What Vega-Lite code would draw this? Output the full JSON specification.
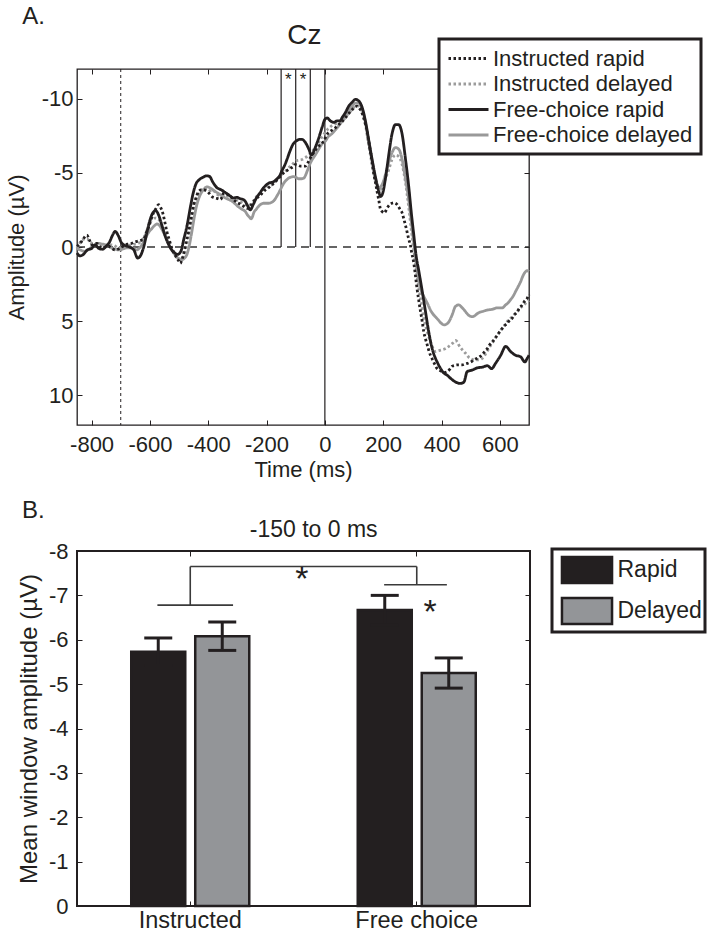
{
  "$schema": "https://vega.github.io/schema/vega-lite/v6.json",
  "background": "white",
  "padding": {"left": 4, "top": 4, "right": 0, "bottom": 0},
  "config": {
    "font": "Liberation Sans",
    "view": {"stroke": null},
    "axis": {"grid": false, "domain": false, "labelColor": "#231f20", "titleColor": "#231f20", "tickColor": "#231f20", "titleFontWeight": "normal", "labelFont": "Liberation Sans", "titleFont": "Liberation Sans", "labelExpr": "replace(datum.label, '\u2212', '-')"},
    "legend": {"strokeWidth": 3, "labelFont": "Liberation Sans"},
    "text": {"font": "Liberation Sans", "color": "#231f20"}
  },
  "resolve": {"scale": {"color": "independent", "strokeDash": "independent"}, "legend": {"color": "independent", "strokeDash": "independent"}},
  "datasets": {
    "erp": [
      {"s":"Free-choice delayed","t":-850,"v":0.1},{"s":"Free-choice delayed","t":-839,"v":0.2},{"s":"Free-choice delayed","t":-822,"v":0.3},{"s":"Free-choice delayed","t":-810,"v":0.15},{"s":"Free-choice delayed","t":-799,"v":0.0},{"s":"Free-choice delayed","t":-788,"v":-0.15},{"s":"Free-choice delayed","t":-776,"v":-0.25},{"s":"Free-choice delayed","t":-764,"v":-0.2},{"s":"Free-choice delayed","t":-753,"v":-0.15},{"s":"Free-choice delayed","t":-740,"v":-0.05},{"s":"Free-choice delayed","t":-730,"v":0.08},{"s":"Free-choice delayed","t":-718,"v":0.15},{"s":"Free-choice delayed","t":-707,"v":0.2},{"s":"Free-choice delayed","t":-695,"v":0.15},{"s":"Free-choice delayed","t":-685,"v":0.08},{"s":"Free-choice delayed","t":-670,"v":0.05},{"s":"Free-choice delayed","t":-655,"v":0.1},{"s":"Free-choice delayed","t":-645,"v":0.2},{"s":"Free-choice delayed","t":-635,"v":0.05},{"s":"Free-choice delayed","t":-627,"v":-0.15},{"s":"Free-choice delayed","t":-618,"v":-0.45},{"s":"Free-choice delayed","t":-610,"v":-0.8},{"s":"Free-choice delayed","t":-600,"v":-1.1},{"s":"Free-choice delayed","t":-593,"v":-1.25},{"s":"Free-choice delayed","t":-584,"v":-1.45},{"s":"Free-choice delayed","t":-576,"v":-1.55},{"s":"Free-choice delayed","t":-567,"v":-1.45},{"s":"Free-choice delayed","t":-559,"v":-1.2},{"s":"Free-choice delayed","t":-550,"v":-0.85},{"s":"Free-choice delayed","t":-542,"v":-0.5},{"s":"Free-choice delayed","t":-533,"v":-0.1},{"s":"Free-choice delayed","t":-525,"v":0.2},{"s":"Free-choice delayed","t":-515,"v":0.5},{"s":"Free-choice delayed","t":-507,"v":0.7},{"s":"Free-choice delayed","t":-498,"v":0.8},{"s":"Free-choice delayed","t":-490,"v":0.85},{"s":"Free-choice delayed","t":-481,"v":0.75},{"s":"Free-choice delayed","t":-473,"v":0.5},{"s":"Free-choice delayed","t":-465,"v":-0.1},{"s":"Free-choice delayed","t":-456,"v":-1.05},{"s":"Free-choice delayed","t":-447,"v":-2.1},{"s":"Free-choice delayed","t":-439,"v":-2.85},{"s":"Free-choice delayed","t":-430,"v":-3.4},{"s":"Free-choice delayed","t":-421,"v":-3.75},{"s":"Free-choice delayed","t":-412,"v":-3.95},{"s":"Free-choice delayed","t":-404,"v":-4.05},{"s":"Free-choice delayed","t":-395,"v":-4.0},{"s":"Free-choice delayed","t":-387,"v":-3.9},{"s":"Free-choice delayed","t":-376,"v":-3.75},{"s":"Free-choice delayed","t":-364,"v":-3.6},{"s":"Free-choice delayed","t":-352,"v":-3.45},{"s":"Free-choice delayed","t":-341,"v":-3.3},{"s":"Free-choice delayed","t":-330,"v":-3.2},{"s":"Free-choice delayed","t":-319,"v":-3.1},{"s":"Free-choice delayed","t":-307,"v":-2.9},{"s":"Free-choice delayed","t":-296,"v":-2.7},{"s":"Free-choice delayed","t":-285,"v":-2.55},{"s":"Free-choice delayed","t":-273,"v":-2.4},{"s":"Free-choice delayed","t":-265,"v":-2.15},{"s":"Free-choice delayed","t":-258,"v":-2.0},{"s":"Free-choice delayed","t":-253,"v":-1.9},{"s":"Free-choice delayed","t":-248,"v":-2.05},{"s":"Free-choice delayed","t":-244,"v":-2.3},{"s":"Free-choice delayed","t":-235,"v":-2.55},{"s":"Free-choice delayed","t":-227,"v":-2.75},{"s":"Free-choice delayed","t":-218,"v":-2.9},{"s":"Free-choice delayed","t":-210,"v":-2.95},{"s":"Free-choice delayed","t":-193,"v":-2.95},{"s":"Free-choice delayed","t":-176,"v":-3.1},{"s":"Free-choice delayed","t":-164,"v":-3.45},{"s":"Free-choice delayed","t":-153,"v":-3.85},{"s":"Free-choice delayed","t":-141,"v":-4.3},{"s":"Free-choice delayed","t":-130,"v":-4.55},{"s":"Free-choice delayed","t":-124,"v":-4.65},{"s":"Free-choice delayed","t":-115,"v":-4.72},{"s":"Free-choice delayed","t":-107,"v":-4.75},{"s":"Free-choice delayed","t":-98,"v":-4.68},{"s":"Free-choice delayed","t":-90,"v":-4.6},{"s":"Free-choice delayed","t":-80,"v":-4.6},{"s":"Free-choice delayed","t":-72,"v":-4.65},{"s":"Free-choice delayed","t":-66,"v":-4.85},{"s":"Free-choice delayed","t":-61,"v":-5.1},{"s":"Free-choice delayed","t":-55,"v":-5.4},{"s":"Free-choice delayed","t":-50,"v":-5.65},{"s":"Free-choice delayed","t":-40,"v":-6.0},{"s":"Free-choice delayed","t":-33,"v":-6.2},{"s":"Free-choice delayed","t":-24,"v":-6.5},{"s":"Free-choice delayed","t":-15,"v":-6.8},{"s":"Free-choice delayed","t":-6,"v":-7.05},{"s":"Free-choice delayed","t":2,"v":-7.15},{"s":"Free-choice delayed","t":10,"v":-7.4},{"s":"Free-choice delayed","t":25,"v":-7.65},{"s":"Free-choice delayed","t":36,"v":-7.9},{"s":"Free-choice delayed","t":47,"v":-8.15},{"s":"Free-choice delayed","t":59,"v":-8.5},{"s":"Free-choice delayed","t":70,"v":-8.95},{"s":"Free-choice delayed","t":80,"v":-9.2},{"s":"Free-choice delayed","t":88,"v":-9.4},{"s":"Free-choice delayed","t":97,"v":-9.6},{"s":"Free-choice delayed","t":105,"v":-9.7},{"s":"Free-choice delayed","t":116,"v":-9.7},{"s":"Free-choice delayed","t":128,"v":-9.3},{"s":"Free-choice delayed","t":139,"v":-8.4},{"s":"Free-choice delayed","t":150,"v":-7.1},{"s":"Free-choice delayed","t":162,"v":-5.8},{"s":"Free-choice delayed","t":173,"v":-4.65},{"s":"Free-choice delayed","t":185,"v":-4.0},{"s":"Free-choice delayed","t":196,"v":-4.2},{"s":"Free-choice delayed","t":208,"v":-4.9},{"s":"Free-choice delayed","t":219,"v":-5.7},{"s":"Free-choice delayed","t":230,"v":-6.35},{"s":"Free-choice delayed","t":242,"v":-6.7},{"s":"Free-choice delayed","t":253,"v":-6.6},{"s":"Free-choice delayed","t":265,"v":-5.9},{"s":"Free-choice delayed","t":276,"v":-4.65},{"s":"Free-choice delayed","t":288,"v":-3.1},{"s":"Free-choice delayed","t":297,"v":-1.6},{"s":"Free-choice delayed","t":304,"v":-0.4},{"s":"Free-choice delayed","t":310,"v":0.5},{"s":"Free-choice delayed","t":316,"v":1.6},{"s":"Free-choice delayed","t":322,"v":2.3},{"s":"Free-choice delayed","t":328,"v":2.8},{"s":"Free-choice delayed","t":336,"v":3.2},{"s":"Free-choice delayed","t":345,"v":3.55},{"s":"Free-choice delayed","t":354,"v":3.9},{"s":"Free-choice delayed","t":362,"v":4.25},{"s":"Free-choice delayed","t":370,"v":4.5},{"s":"Free-choice delayed","t":379,"v":4.7},{"s":"Free-choice delayed","t":388,"v":4.9},{"s":"Free-choice delayed","t":397,"v":5.1},{"s":"Free-choice delayed","t":408,"v":5.25},{"s":"Free-choice delayed","t":417,"v":5.2},{"s":"Free-choice delayed","t":425,"v":5.05},{"s":"Free-choice delayed","t":436,"v":4.6},{"s":"Free-choice delayed","t":448,"v":4.0},{"s":"Free-choice delayed","t":459,"v":3.9},{"s":"Free-choice delayed","t":471,"v":4.1},{"s":"Free-choice delayed","t":480,"v":4.3},{"s":"Free-choice delayed","t":488,"v":4.5},{"s":"Free-choice delayed","t":497,"v":4.65},{"s":"Free-choice delayed","t":505,"v":4.7},{"s":"Free-choice delayed","t":513,"v":4.65},{"s":"Free-choice delayed","t":522,"v":4.5},{"s":"Free-choice delayed","t":531,"v":4.4},{"s":"Free-choice delayed","t":540,"v":4.35},{"s":"Free-choice delayed","t":557,"v":4.25},{"s":"Free-choice delayed","t":574,"v":4.2},{"s":"Free-choice delayed","t":591,"v":4.1},{"s":"Free-choice delayed","t":608,"v":4.1},{"s":"Free-choice delayed","t":620,"v":3.9},{"s":"Free-choice delayed","t":629,"v":3.75},{"s":"Free-choice delayed","t":637,"v":3.55},{"s":"Free-choice delayed","t":646,"v":3.3},{"s":"Free-choice delayed","t":654,"v":3.0},{"s":"Free-choice delayed","t":662,"v":2.7},{"s":"Free-choice delayed","t":671,"v":2.35},{"s":"Free-choice delayed","t":677,"v":2.05},{"s":"Free-choice delayed","t":683,"v":1.8},{"s":"Free-choice delayed","t":694,"v":1.6},{"s":"Free-choice delayed","t":700,"v":1.65},

      {"s":"Instructed delayed","t":-850,"v":0.08},{"s":"Instructed delayed","t":-842,"v":-0.2},{"s":"Instructed delayed","t":-833,"v":-0.5},{"s":"Instructed delayed","t":-816,"v":-0.55},{"s":"Instructed delayed","t":-806,"v":-0.35},{"s":"Instructed delayed","t":-799,"v":-0.25},{"s":"Instructed delayed","t":-788,"v":-0.2},{"s":"Instructed delayed","t":-776,"v":-0.15},{"s":"Instructed delayed","t":-765,"v":-0.1},{"s":"Instructed delayed","t":-753,"v":-0.05},{"s":"Instructed delayed","t":-742,"v":-0.1},{"s":"Instructed delayed","t":-730,"v":-0.15},{"s":"Instructed delayed","t":-718,"v":-0.05},{"s":"Instructed delayed","t":-707,"v":0.08},{"s":"Instructed delayed","t":-696,"v":0.0},{"s":"Instructed delayed","t":-685,"v":-0.05},{"s":"Instructed delayed","t":-673,"v":-0.1},{"s":"Instructed delayed","t":-662,"v":-0.15},{"s":"Instructed delayed","t":-650,"v":-0.2},{"s":"Instructed delayed","t":-639,"v":-0.25},{"s":"Instructed delayed","t":-628,"v":-0.45},{"s":"Instructed delayed","t":-616,"v":-0.8},{"s":"Instructed delayed","t":-608,"v":-1.25},{"s":"Instructed delayed","t":-599,"v":-1.7},{"s":"Instructed delayed","t":-590,"v":-1.85},{"s":"Instructed delayed","t":-582,"v":-1.95},{"s":"Instructed delayed","t":-573,"v":-1.9},{"s":"Instructed delayed","t":-564,"v":-1.7},{"s":"Instructed delayed","t":-556,"v":-1.3},{"s":"Instructed delayed","t":-547,"v":-0.8},{"s":"Instructed delayed","t":-536,"v":-0.35},{"s":"Instructed delayed","t":-525,"v":0.08},{"s":"Instructed delayed","t":-516,"v":0.45},{"s":"Instructed delayed","t":-507,"v":0.75},{"s":"Instructed delayed","t":-500,"v":0.82},{"s":"Instructed delayed","t":-492,"v":0.85},{"s":"Instructed delayed","t":-485,"v":0.65},{"s":"Instructed delayed","t":-479,"v":0.3},{"s":"Instructed delayed","t":-470,"v":-0.45},{"s":"Instructed delayed","t":-461,"v":-1.3},{"s":"Instructed delayed","t":-452,"v":-2.2},{"s":"Instructed delayed","t":-444,"v":-3.1},{"s":"Instructed delayed","t":-435,"v":-3.45},{"s":"Instructed delayed","t":-427,"v":-3.75},{"s":"Instructed delayed","t":-418,"v":-3.9},{"s":"Instructed delayed","t":-410,"v":-4.0},{"s":"Instructed delayed","t":-400,"v":-3.95},{"s":"Instructed delayed","t":-393,"v":-3.8},{"s":"Instructed delayed","t":-387,"v":-3.85},{"s":"Instructed delayed","t":-376,"v":-3.7},{"s":"Instructed delayed","t":-364,"v":-3.5},{"s":"Instructed delayed","t":-352,"v":-3.5},{"s":"Instructed delayed","t":-341,"v":-3.5},{"s":"Instructed delayed","t":-330,"v":-3.4},{"s":"Instructed delayed","t":-319,"v":-3.3},{"s":"Instructed delayed","t":-307,"v":-3.2},{"s":"Instructed delayed","t":-296,"v":-3.1},{"s":"Instructed delayed","t":-285,"v":-3.0},{"s":"Instructed delayed","t":-273,"v":-2.85},{"s":"Instructed delayed","t":-265,"v":-2.8},{"s":"Instructed delayed","t":-256,"v":-2.85},{"s":"Instructed delayed","t":-247,"v":-3.05},{"s":"Instructed delayed","t":-238,"v":-3.3},{"s":"Instructed delayed","t":-230,"v":-3.5},{"s":"Instructed delayed","t":-221,"v":-3.65},{"s":"Instructed delayed","t":-212,"v":-3.85},{"s":"Instructed delayed","t":-204,"v":-4.0},{"s":"Instructed delayed","t":-192,"v":-4.1},{"s":"Instructed delayed","t":-181,"v":-4.2},{"s":"Instructed delayed","t":-170,"v":-4.4},{"s":"Instructed delayed","t":-159,"v":-4.65},{"s":"Instructed delayed","t":-147,"v":-4.9},{"s":"Instructed delayed","t":-135,"v":-5.1},{"s":"Instructed delayed","t":-126,"v":-5.3},{"s":"Instructed delayed","t":-118,"v":-5.45},{"s":"Instructed delayed","t":-110,"v":-5.6},{"s":"Instructed delayed","t":-101,"v":-5.8},{"s":"Instructed delayed","t":-90,"v":-5.85},{"s":"Instructed delayed","t":-78,"v":-5.9},{"s":"Instructed delayed","t":-70,"v":-6.0},{"s":"Instructed delayed","t":-61,"v":-6.1},{"s":"Instructed delayed","t":-52,"v":-6.25},{"s":"Instructed delayed","t":-44,"v":-6.45},{"s":"Instructed delayed","t":-35,"v":-6.65},{"s":"Instructed delayed","t":-27,"v":-6.9},{"s":"Instructed delayed","t":-18,"v":-7.15},{"s":"Instructed delayed","t":-9,"v":-7.45},{"s":"Instructed delayed","t":0,"v":-7.7},{"s":"Instructed delayed","t":8,"v":-7.9},{"s":"Instructed delayed","t":16,"v":-8.05},{"s":"Instructed delayed","t":25,"v":-8.2},{"s":"Instructed delayed","t":36,"v":-8.3},{"s":"Instructed delayed","t":47,"v":-8.4},{"s":"Instructed delayed","t":59,"v":-8.55},{"s":"Instructed delayed","t":70,"v":-8.7},{"s":"Instructed delayed","t":79,"v":-8.95},{"s":"Instructed delayed","t":88,"v":-9.15},{"s":"Instructed delayed","t":97,"v":-9.35},{"s":"Instructed delayed","t":105,"v":-9.5},{"s":"Instructed delayed","t":116,"v":-9.5},{"s":"Instructed delayed","t":128,"v":-9.05},{"s":"Instructed delayed","t":139,"v":-8.25},{"s":"Instructed delayed","t":150,"v":-6.9},{"s":"Instructed delayed","t":162,"v":-5.55},{"s":"Instructed delayed","t":173,"v":-4.45},{"s":"Instructed delayed","t":185,"v":-3.85},{"s":"Instructed delayed","t":196,"v":-3.95},{"s":"Instructed delayed","t":208,"v":-4.65},{"s":"Instructed delayed","t":219,"v":-5.2},{"s":"Instructed delayed","t":230,"v":-5.9},{"s":"Instructed delayed","t":242,"v":-6.2},{"s":"Instructed delayed","t":253,"v":-6.1},{"s":"Instructed delayed","t":265,"v":-5.55},{"s":"Instructed delayed","t":276,"v":-4.4},{"s":"Instructed delayed","t":288,"v":-2.6},{"s":"Instructed delayed","t":297,"v":-1.05},{"s":"Instructed delayed","t":305,"v":0.2},{"s":"Instructed delayed","t":311,"v":1.1},{"s":"Instructed delayed","t":316,"v":1.9},{"s":"Instructed delayed","t":322,"v":2.7},{"s":"Instructed delayed","t":328,"v":3.45},{"s":"Instructed delayed","t":339,"v":4.8},{"s":"Instructed delayed","t":351,"v":5.7},{"s":"Instructed delayed","t":362,"v":6.4},{"s":"Instructed delayed","t":368,"v":6.7},{"s":"Instructed delayed","t":379,"v":7.05},{"s":"Instructed delayed","t":388,"v":7.0},{"s":"Instructed delayed","t":397,"v":6.95},{"s":"Instructed delayed","t":414,"v":6.85},{"s":"Instructed delayed","t":431,"v":6.6},{"s":"Instructed delayed","t":440,"v":6.45},{"s":"Instructed delayed","t":448,"v":6.3},{"s":"Instructed delayed","t":454,"v":6.4},{"s":"Instructed delayed","t":459,"v":6.6},{"s":"Instructed delayed","t":468,"v":6.85},{"s":"Instructed delayed","t":477,"v":7.05},{"s":"Instructed delayed","t":486,"v":7.25},{"s":"Instructed delayed","t":494,"v":7.45},{"s":"Instructed delayed","t":502,"v":7.55},{"s":"Instructed delayed","t":511,"v":7.6},{"s":"Instructed delayed","t":528,"v":7.6},{"s":"Instructed delayed","t":537,"v":7.55},{"s":"Instructed delayed","t":545,"v":7.4},{"s":"Instructed delayed","t":553,"v":7.15},{"s":"Instructed delayed","t":562,"v":6.85},{"s":"Instructed delayed","t":571,"v":6.55},{"s":"Instructed delayed","t":580,"v":6.3},{"s":"Instructed delayed","t":588,"v":6.05},{"s":"Instructed delayed","t":597,"v":5.8},{"s":"Instructed delayed","t":605,"v":5.55},{"s":"Instructed delayed","t":614,"v":5.35},{"s":"Instructed delayed","t":623,"v":5.1},{"s":"Instructed delayed","t":631,"v":4.9},{"s":"Instructed delayed","t":640,"v":4.75},{"s":"Instructed delayed","t":648,"v":4.6},{"s":"Instructed delayed","t":657,"v":4.4},{"s":"Instructed delayed","t":665,"v":4.25},{"s":"Instructed delayed","t":674,"v":4.05},{"s":"Instructed delayed","t":683,"v":3.9},{"s":"Instructed delayed","t":691,"v":3.75},{"s":"Instructed delayed","t":700,"v":3.6},

      {"s":"Instructed rapid","t":-850,"v":-0.05},{"s":"Instructed rapid","t":-839,"v":-0.25},{"s":"Instructed rapid","t":-828,"v":-0.55},{"s":"Instructed rapid","t":-816,"v":-0.8},{"s":"Instructed rapid","t":-808,"v":-0.5},{"s":"Instructed rapid","t":-799,"v":-0.15},{"s":"Instructed rapid","t":-790,"v":-0.2},{"s":"Instructed rapid","t":-782,"v":-0.25},{"s":"Instructed rapid","t":-774,"v":-0.05},{"s":"Instructed rapid","t":-765,"v":0.08},{"s":"Instructed rapid","t":-753,"v":0.0},{"s":"Instructed rapid","t":-742,"v":-0.05},{"s":"Instructed rapid","t":-730,"v":0.1},{"s":"Instructed rapid","t":-719,"v":0.2},{"s":"Instructed rapid","t":-710,"v":0.15},{"s":"Instructed rapid","t":-702,"v":0.08},{"s":"Instructed rapid","t":-693,"v":-0.05},{"s":"Instructed rapid","t":-685,"v":-0.15},{"s":"Instructed rapid","t":-673,"v":-0.2},{"s":"Instructed rapid","t":-662,"v":-0.25},{"s":"Instructed rapid","t":-650,"v":-0.35},{"s":"Instructed rapid","t":-639,"v":-0.4},{"s":"Instructed rapid","t":-630,"v":-0.45},{"s":"Instructed rapid","t":-622,"v":-0.5},{"s":"Instructed rapid","t":-614,"v":-0.9},{"s":"Instructed rapid","t":-605,"v":-1.3},{"s":"Instructed rapid","t":-596,"v":-1.85},{"s":"Instructed rapid","t":-588,"v":-2.3},{"s":"Instructed rapid","t":-579,"v":-2.6},{"s":"Instructed rapid","t":-570,"v":-2.85},{"s":"Instructed rapid","t":-563,"v":-2.65},{"s":"Instructed rapid","t":-556,"v":-2.3},{"s":"Instructed rapid","t":-549,"v":-1.7},{"s":"Instructed rapid","t":-542,"v":-1.05},{"s":"Instructed rapid","t":-533,"v":-0.45},{"s":"Instructed rapid","t":-525,"v":0.08},{"s":"Instructed rapid","t":-516,"v":0.45},{"s":"Instructed rapid","t":-507,"v":0.75},{"s":"Instructed rapid","t":-501,"v":0.95},{"s":"Instructed rapid","t":-496,"v":1.1},{"s":"Instructed rapid","t":-490,"v":0.85},{"s":"Instructed rapid","t":-485,"v":0.5},{"s":"Instructed rapid","t":-476,"v":-0.3},{"s":"Instructed rapid","t":-467,"v":-1.05},{"s":"Instructed rapid","t":-458,"v":-2.0},{"s":"Instructed rapid","t":-450,"v":-2.85},{"s":"Instructed rapid","t":-441,"v":-3.35},{"s":"Instructed rapid","t":-433,"v":-3.75},{"s":"Instructed rapid","t":-424,"v":-3.85},{"s":"Instructed rapid","t":-416,"v":-3.85},{"s":"Instructed rapid","t":-404,"v":-3.75},{"s":"Instructed rapid","t":-396,"v":-3.6},{"s":"Instructed rapid","t":-387,"v":-3.4},{"s":"Instructed rapid","t":-376,"v":-3.3},{"s":"Instructed rapid","t":-365,"v":-3.25},{"s":"Instructed rapid","t":-358,"v":-3.2},{"s":"Instructed rapid","t":-352,"v":-3.4},{"s":"Instructed rapid","t":-347,"v":-3.65},{"s":"Instructed rapid","t":-338,"v":-3.6},{"s":"Instructed rapid","t":-330,"v":-3.5},{"s":"Instructed rapid","t":-321,"v":-3.35},{"s":"Instructed rapid","t":-313,"v":-3.2},{"s":"Instructed rapid","t":-305,"v":-3.05},{"s":"Instructed rapid","t":-296,"v":-2.95},{"s":"Instructed rapid","t":-287,"v":-2.85},{"s":"Instructed rapid","t":-279,"v":-2.75},{"s":"Instructed rapid","t":-267,"v":-2.6},{"s":"Instructed rapid","t":-256,"v":-2.75},{"s":"Instructed rapid","t":-247,"v":-3.0},{"s":"Instructed rapid","t":-238,"v":-3.2},{"s":"Instructed rapid","t":-230,"v":-3.35},{"s":"Instructed rapid","t":-221,"v":-3.5},{"s":"Instructed rapid","t":-212,"v":-3.7},{"s":"Instructed rapid","t":-204,"v":-3.85},{"s":"Instructed rapid","t":-196,"v":-3.95},{"s":"Instructed rapid","t":-187,"v":-4.1},{"s":"Instructed rapid","t":-178,"v":-4.25},{"s":"Instructed rapid","t":-170,"v":-4.4},{"s":"Instructed rapid","t":-161,"v":-4.6},{"s":"Instructed rapid","t":-153,"v":-4.75},{"s":"Instructed rapid","t":-144,"v":-4.95},{"s":"Instructed rapid","t":-135,"v":-5.1},{"s":"Instructed rapid","t":-126,"v":-5.2},{"s":"Instructed rapid","t":-118,"v":-5.3},{"s":"Instructed rapid","t":-110,"v":-5.4},{"s":"Instructed rapid","t":-101,"v":-5.55},{"s":"Instructed rapid","t":-92,"v":-5.5},{"s":"Instructed rapid","t":-84,"v":-5.45},{"s":"Instructed rapid","t":-75,"v":-5.45},{"s":"Instructed rapid","t":-67,"v":-5.45},{"s":"Instructed rapid","t":-61,"v":-5.6},{"s":"Instructed rapid","t":-55,"v":-5.8},{"s":"Instructed rapid","t":-50,"v":-6.0},{"s":"Instructed rapid","t":-44,"v":-6.2},{"s":"Instructed rapid","t":-35,"v":-6.45},{"s":"Instructed rapid","t":-27,"v":-6.7},{"s":"Instructed rapid","t":-18,"v":-6.85},{"s":"Instructed rapid","t":-9,"v":-7.0},{"s":"Instructed rapid","t":0,"v":-7.3},{"s":"Instructed rapid","t":8,"v":-7.6},{"s":"Instructed rapid","t":19,"v":-7.8},{"s":"Instructed rapid","t":31,"v":-7.95},{"s":"Instructed rapid","t":40,"v":-8.1},{"s":"Instructed rapid","t":47,"v":-8.25},{"s":"Instructed rapid","t":59,"v":-8.45},{"s":"Instructed rapid","t":70,"v":-8.7},{"s":"Instructed rapid","t":82,"v":-9.0},{"s":"Instructed rapid","t":93,"v":-9.25},{"s":"Instructed rapid","t":102,"v":-9.4},{"s":"Instructed rapid","t":110,"v":-9.5},{"s":"Instructed rapid","t":116,"v":-9.4},{"s":"Instructed rapid","t":122,"v":-9.25},{"s":"Instructed rapid","t":128,"v":-9.0},{"s":"Instructed rapid","t":133,"v":-8.7},{"s":"Instructed rapid","t":139,"v":-8.3},{"s":"Instructed rapid","t":145,"v":-7.8},{"s":"Instructed rapid","t":150,"v":-7.2},{"s":"Instructed rapid","t":156,"v":-6.45},{"s":"Instructed rapid","t":162,"v":-5.7},{"s":"Instructed rapid","t":168,"v":-4.9},{"s":"Instructed rapid","t":174,"v":-4.3},{"s":"Instructed rapid","t":179,"v":-3.75},{"s":"Instructed rapid","t":185,"v":-3.15},{"s":"Instructed rapid","t":190,"v":-2.6},{"s":"Instructed rapid","t":196,"v":-2.4},{"s":"Instructed rapid","t":202,"v":-2.3},{"s":"Instructed rapid","t":208,"v":-2.4},{"s":"Instructed rapid","t":213,"v":-2.6},{"s":"Instructed rapid","t":222,"v":-2.85},{"s":"Instructed rapid","t":230,"v":-2.95},{"s":"Instructed rapid","t":236,"v":-2.98},{"s":"Instructed rapid","t":242,"v":-2.95},{"s":"Instructed rapid","t":248,"v":-2.85},{"s":"Instructed rapid","t":253,"v":-2.7},{"s":"Instructed rapid","t":259,"v":-2.5},{"s":"Instructed rapid","t":265,"v":-2.3},{"s":"Instructed rapid","t":270,"v":-1.95},{"s":"Instructed rapid","t":276,"v":-1.5},{"s":"Instructed rapid","t":282,"v":-1.0},{"s":"Instructed rapid","t":288,"v":-0.5},{"s":"Instructed rapid","t":293,"v":-0.15},{"s":"Instructed rapid","t":297,"v":0.3},{"s":"Instructed rapid","t":305,"v":1.1},{"s":"Instructed rapid","t":311,"v":2.0},{"s":"Instructed rapid","t":316,"v":2.8},{"s":"Instructed rapid","t":322,"v":3.6},{"s":"Instructed rapid","t":328,"v":4.35},{"s":"Instructed rapid","t":334,"v":5.05},{"s":"Instructed rapid","t":339,"v":5.7},{"s":"Instructed rapid","t":345,"v":6.2},{"s":"Instructed rapid","t":351,"v":6.6},{"s":"Instructed rapid","t":356,"v":6.95},{"s":"Instructed rapid","t":362,"v":7.3},{"s":"Instructed rapid","t":368,"v":7.55},{"s":"Instructed rapid","t":373,"v":7.75},{"s":"Instructed rapid","t":379,"v":8.0},{"s":"Instructed rapid","t":385,"v":8.2},{"s":"Instructed rapid","t":393,"v":8.3},{"s":"Instructed rapid","t":402,"v":8.4},{"s":"Instructed rapid","t":411,"v":8.45},{"s":"Instructed rapid","t":420,"v":8.4},{"s":"Instructed rapid","t":428,"v":8.25},{"s":"Instructed rapid","t":436,"v":8.05},{"s":"Instructed rapid","t":445,"v":7.98},{"s":"Instructed rapid","t":453,"v":7.95},{"s":"Instructed rapid","t":462,"v":7.95},{"s":"Instructed rapid","t":471,"v":7.95},{"s":"Instructed rapid","t":480,"v":7.9},{"s":"Instructed rapid","t":488,"v":7.85},{"s":"Instructed rapid","t":497,"v":7.78},{"s":"Instructed rapid","t":505,"v":7.7},{"s":"Instructed rapid","t":513,"v":7.6},{"s":"Instructed rapid","t":522,"v":7.5},{"s":"Instructed rapid","t":531,"v":7.4},{"s":"Instructed rapid","t":540,"v":7.25},{"s":"Instructed rapid","t":548,"v":7.05},{"s":"Instructed rapid","t":557,"v":6.85},{"s":"Instructed rapid","t":565,"v":6.6},{"s":"Instructed rapid","t":574,"v":6.4},{"s":"Instructed rapid","t":582,"v":6.2},{"s":"Instructed rapid","t":591,"v":5.95},{"s":"Instructed rapid","t":600,"v":5.7},{"s":"Instructed rapid","t":608,"v":5.5},{"s":"Instructed rapid","t":616,"v":5.3},{"s":"Instructed rapid","t":625,"v":5.15},{"s":"Instructed rapid","t":633,"v":4.95},{"s":"Instructed rapid","t":642,"v":4.8},{"s":"Instructed rapid","t":651,"v":4.55},{"s":"Instructed rapid","t":660,"v":4.35},{"s":"Instructed rapid","t":668,"v":4.1},{"s":"Instructed rapid","t":677,"v":3.9},{"s":"Instructed rapid","t":685,"v":3.65},{"s":"Instructed rapid","t":694,"v":3.45},{"s":"Instructed rapid","t":700,"v":3.2},

      {"s":"Free-choice rapid","t":-850,"v":0.4},{"s":"Free-choice rapid","t":-840,"v":0.6},{"s":"Free-choice rapid","t":-828,"v":0.5},{"s":"Free-choice rapid","t":-815,"v":0.2},{"s":"Free-choice rapid","t":-800,"v":0.1},{"s":"Free-choice rapid","t":-788,"v":-0.15},{"s":"Free-choice rapid","t":-775,"v":0.1},{"s":"Free-choice rapid","t":-762,"v":0.15},{"s":"Free-choice rapid","t":-750,"v":-0.05},{"s":"Free-choice rapid","t":-738,"v":-0.35},{"s":"Free-choice rapid","t":-728,"v":-0.8},{"s":"Free-choice rapid","t":-719,"v":-1.05},{"s":"Free-choice rapid","t":-708,"v":-0.75},{"s":"Free-choice rapid","t":-698,"v":-0.3},{"s":"Free-choice rapid","t":-685,"v":-0.1},{"s":"Free-choice rapid","t":-670,"v":0.0},{"s":"Free-choice rapid","t":-655,"v":0.2},{"s":"Free-choice rapid","t":-642,"v":0.75},{"s":"Free-choice rapid","t":-630,"v":0.5},{"s":"Free-choice rapid","t":-620,"v":-0.1},{"s":"Free-choice rapid","t":-610,"v":-1.0},{"s":"Free-choice rapid","t":-600,"v":-1.8},{"s":"Free-choice rapid","t":-590,"v":-2.3},{"s":"Free-choice rapid","t":-580,"v":-2.45},{"s":"Free-choice rapid","t":-570,"v":-2.15},{"s":"Free-choice rapid","t":-558,"v":-1.4},{"s":"Free-choice rapid","t":-545,"v":-0.6},{"s":"Free-choice rapid","t":-530,"v":0.05},{"s":"Free-choice rapid","t":-515,"v":0.4},{"s":"Free-choice rapid","t":-505,"v":0.5},{"s":"Free-choice rapid","t":-494,"v":0.3},{"s":"Free-choice rapid","t":-484,"v":-0.5},{"s":"Free-choice rapid","t":-472,"v":-1.5},{"s":"Free-choice rapid","t":-462,"v":-2.6},{"s":"Free-choice rapid","t":-452,"v":-3.6},{"s":"Free-choice rapid","t":-442,"v":-4.25},{"s":"Free-choice rapid","t":-430,"v":-4.55},{"s":"Free-choice rapid","t":-418,"v":-4.7},{"s":"Free-choice rapid","t":-405,"v":-4.8},{"s":"Free-choice rapid","t":-395,"v":-4.75},{"s":"Free-choice rapid","t":-385,"v":-4.4},{"s":"Free-choice rapid","t":-370,"v":-4.0},{"s":"Free-choice rapid","t":-355,"v":-3.85},{"s":"Free-choice rapid","t":-340,"v":-3.65},{"s":"Free-choice rapid","t":-325,"v":-3.45},{"s":"Free-choice rapid","t":-313,"v":-3.3},{"s":"Free-choice rapid","t":-302,"v":-3.35},{"s":"Free-choice rapid","t":-290,"v":-3.25},{"s":"Free-choice rapid","t":-280,"v":-3.2},{"s":"Free-choice rapid","t":-272,"v":-3.05},{"s":"Free-choice rapid","t":-264,"v":-2.75},{"s":"Free-choice rapid","t":-256,"v":-2.5},{"s":"Free-choice rapid","t":-246,"v":-2.85},{"s":"Free-choice rapid","t":-235,"v":-3.3},{"s":"Free-choice rapid","t":-224,"v":-3.6},{"s":"Free-choice rapid","t":-210,"v":-4.0},{"s":"Free-choice rapid","t":-193,"v":-4.3},{"s":"Free-choice rapid","t":-176,"v":-4.4},{"s":"Free-choice rapid","t":-164,"v":-4.6},{"s":"Free-choice rapid","t":-155,"v":-4.8},{"s":"Free-choice rapid","t":-147,"v":-5.15},{"s":"Free-choice rapid","t":-138,"v":-5.5},{"s":"Free-choice rapid","t":-130,"v":-5.9},{"s":"Free-choice rapid","t":-120,"v":-6.45},{"s":"Free-choice rapid","t":-110,"v":-6.9},{"s":"Free-choice rapid","t":-98,"v":-7.15},{"s":"Free-choice rapid","t":-88,"v":-7.25},{"s":"Free-choice rapid","t":-78,"v":-7.25},{"s":"Free-choice rapid","t":-67,"v":-7.05},{"s":"Free-choice rapid","t":-55,"v":-6.6},{"s":"Free-choice rapid","t":-46,"v":-6.2},{"s":"Free-choice rapid","t":-40,"v":-6.35},{"s":"Free-choice rapid","t":-34,"v":-6.65},{"s":"Free-choice rapid","t":-21,"v":-7.35},{"s":"Free-choice rapid","t":-9,"v":-8.1},{"s":"Free-choice rapid","t":0,"v":-8.6},{"s":"Free-choice rapid","t":8,"v":-8.7},{"s":"Free-choice rapid","t":19,"v":-8.5},{"s":"Free-choice rapid","t":31,"v":-8.4},{"s":"Free-choice rapid","t":42,"v":-8.5},{"s":"Free-choice rapid","t":52,"v":-8.5},{"s":"Free-choice rapid","t":60,"v":-8.75},{"s":"Free-choice rapid","t":70,"v":-9.05},{"s":"Free-choice rapid","t":82,"v":-9.5},{"s":"Free-choice rapid","t":93,"v":-9.75},{"s":"Free-choice rapid","t":105,"v":-9.95},{"s":"Free-choice rapid","t":116,"v":-9.85},{"s":"Free-choice rapid","t":128,"v":-9.4},{"s":"Free-choice rapid","t":139,"v":-8.5},{"s":"Free-choice rapid","t":150,"v":-7.25},{"s":"Free-choice rapid","t":162,"v":-5.9},{"s":"Free-choice rapid","t":173,"v":-4.75},{"s":"Free-choice rapid","t":185,"v":-3.75},{"s":"Free-choice rapid","t":191,"v":-3.4},{"s":"Free-choice rapid","t":198,"v":-3.6},{"s":"Free-choice rapid","t":208,"v":-4.65},{"s":"Free-choice rapid","t":219,"v":-6.2},{"s":"Free-choice rapid","t":230,"v":-7.6},{"s":"Free-choice rapid","t":242,"v":-8.25},{"s":"Free-choice rapid","t":253,"v":-8.25},{"s":"Free-choice rapid","t":265,"v":-7.6},{"s":"Free-choice rapid","t":276,"v":-6.0},{"s":"Free-choice rapid","t":288,"v":-4.0},{"s":"Free-choice rapid","t":297,"v":-2.2},{"s":"Free-choice rapid","t":305,"v":-0.8},{"s":"Free-choice rapid","t":313,"v":0.6},{"s":"Free-choice rapid","t":322,"v":1.6},{"s":"Free-choice rapid","t":334,"v":3.0},{"s":"Free-choice rapid","t":345,"v":4.35},{"s":"Free-choice rapid","t":356,"v":5.7},{"s":"Free-choice rapid","t":368,"v":6.85},{"s":"Free-choice rapid","t":377,"v":7.4},{"s":"Free-choice rapid","t":385,"v":7.75},{"s":"Free-choice rapid","t":397,"v":8.2},{"s":"Free-choice rapid","t":408,"v":8.5},{"s":"Free-choice rapid","t":420,"v":8.65},{"s":"Free-choice rapid","t":431,"v":8.85},{"s":"Free-choice rapid","t":448,"v":9.1},{"s":"Free-choice rapid","t":465,"v":9.2},{"s":"Free-choice rapid","t":477,"v":9.1},{"s":"Free-choice rapid","t":488,"v":8.4},{"s":"Free-choice rapid","t":505,"v":8.3},{"s":"Free-choice rapid","t":522,"v":8.15},{"s":"Free-choice rapid","t":540,"v":8.1},{"s":"Free-choice rapid","t":557,"v":8.0},{"s":"Free-choice rapid","t":572,"v":8.2},{"s":"Free-choice rapid","t":585,"v":7.85},{"s":"Free-choice rapid","t":603,"v":7.3},{"s":"Free-choice rapid","t":620,"v":6.7},{"s":"Free-choice rapid","t":637,"v":7.05},{"s":"Free-choice rapid","t":654,"v":7.3},{"s":"Free-choice rapid","t":671,"v":7.4},{"s":"Free-choice rapid","t":686,"v":7.75},{"s":"Free-choice rapid","t":694,"v":7.5},{"s":"Free-choice rapid","t":700,"v":7.3}
    ],
    "bars": [
      {"cond":"Instructed","type":"Rapid","mean":-5.73,"lo":-6.04,"hi":-5.42},
      {"cond":"Instructed","type":"Delayed","mean":-6.08,"lo":-6.40,"hi":-5.76},
      {"cond":"Free choice","type":"Rapid","mean":-6.67,"lo":-7.00,"hi":-6.34},
      {"cond":"Free choice","type":"Delayed","mean":-5.25,"lo":-5.59,"hi":-4.91}
    ],
    "sig": [
      {"x":0.855,"x2":1.189,"y":-6.78,"y2":-6.78},
      {"x":1.856,"x2":2.133,"y":-7.24,"y2":-7.24},
      {"x":1.0,"x2":2.0,"y":-7.65,"y2":-7.65},
      {"x":1.0,"x2":1.0,"y":-7.65,"y2":-6.78},
      {"x":2.0,"x2":2.0,"y":-7.65,"y2":-7.24}
    ],
    "stars": [
      {"x":1.493,"y":-7.44,"label":"*"},
      {"x":2.059,"y":-6.69,"label":"*"}
    ]
  },
  "vconcat": [
    {
      "width": 452,
      "height": 356,
      "view": {"stroke": "#231f20", "strokeWidth": 1.3},
      "resolve": {"axis": {"x": "independent", "y": "independent"}},
      "layer": [
        {
          "data": {"values": [{}]},
          "mark": {"type": "rule", "strokeDash": [3, 3], "strokeWidth": 1, "color": "#231f20"},
          "encoding": {
            "x": {"datum": -700, "type": "quantitative", "axis": null},
            "y": {"datum": -12, "type": "quantitative", "axis": null},
            "y2": {"datum": 12}
          }
        },
        {
          "data": {"values": [{}]},
          "mark": {"type": "rule", "strokeDash": [8, 6], "strokeWidth": 1.3, "color": "#333333"},
          "encoding": {
            "x": {"datum": -850, "type": "quantitative", "axis": null},
            "x2": {"datum": 700},
            "y": {"datum": 0, "type": "quantitative", "axis": null}
          }
        },
        {
          "data": {"values": [{"t": -150}, {"t": -100}, {"t": -50}]},
          "mark": {"type": "rule", "strokeWidth": 1.2, "color": "#231f20"},
          "encoding": {
            "x": {"field": "t", "type": "quantitative", "title": "Time (ms)",
                  "axis": {"orient": "top", "labels": false, "title": null, "values": [-800, -600, -400, -200, 0, 200, 400, 600], "tickSize": -5, "domain": false}},
            "y": {"datum": 0, "type": "quantitative",
                  "axis": {"orient": "right", "labels": false, "title": null, "values": [-10, -5, 0, 5, 10], "tickSize": -5, "domain": false}},
            "y2": {"datum": -12}
          }
        },
        {
          "data": {"values": [{}]},
          "mark": {"type": "rule", "strokeWidth": 1.2, "color": "#231f20"},
          "encoding": {
            "x": {"datum": 0, "type": "quantitative", "axis": null},
            "y": {"datum": -12, "type": "quantitative", "axis": null},
            "y2": {"datum": 12}
          }
        },
        {
          "data": {"name": "erp"},
          "mark": {"type": "line", "strokeWidth": 2.8, "interpolate": "monotone"},
          "encoding": {
            "x": {"field": "t", "type": "quantitative", "title": "Time (ms)",
                  "scale": {"domain": [-850, 700], "nice": false, "zero": false},
                  "axis": {"orient": "bottom", "values": [-800, -600, -400, -200, 0, 200, 400, 600], "labelFontSize": 22, "titleFontSize": 22, "tickSize": -5, "labelPadding": 14, "titlePadding": 4, "labelFlush": false}},
            "y": {"field": "v", "type": "quantitative", "title": "Amplitude (µV)",
                  "scale": {"domain": [-12, 12], "reverse": true, "nice": false, "zero": false},
                  "axis": {"orient": "left", "values": [-10, -5, 0, 5, 10], "labelFontSize": 22, "titleFontSize": 22, "tickSize": -5, "labelPadding": 9, "titlePadding": 13}},
            "color": {"field": "s", "type": "nominal",
                      "scale": {"domain": ["Instructed rapid", "Instructed delayed", "Free-choice rapid", "Free-choice delayed"], "range": ["#231f20", "#9c9c9c", "#231f20", "#999999"]},
                      "legend": {"orient": "none", "legendX": 362, "legendY": -30, "title": null, "symbolType": "M-2,0H2", "symbolSize": 400, "symbolOffset": 10, "symbolStrokeWidth": 3, "labelFontSize": 22, "labelOffset": 13, "padding": 8, "rowPadding": 2.5, "strokeColor": "#231f20", "fillColor": "white", "labelColor": "#231f20", "labelLimit": 500, "labelExpr": "datum.label + '\u00a0\u00a0\u00a0\u00a0\u00a0\u00a0'"}},
            "strokeDash": {"field": "s", "type": "nominal",
                      "scale": {"domain": ["Instructed rapid", "Instructed delayed", "Free-choice rapid", "Free-choice delayed"], "range": [[2.5, 2.5], [2.5, 2.5], [1, 0], [1, 0]]},
                      "legend": {"orient": "none", "legendX": 362, "legendY": -30, "title": null, "symbolType": "M-2,0H2", "symbolSize": 400, "symbolOffset": 10, "symbolStrokeWidth": 3, "labelFontSize": 22, "labelOffset": 13, "padding": 8, "rowPadding": 2.5, "strokeColor": "#231f20", "fillColor": "white", "labelColor": "#231f20", "labelLimit": 500, "labelExpr": "datum.label + '\u00a0\u00a0\u00a0\u00a0\u00a0\u00a0'"}}
          }
        },
        {
          "data": {"values": [{"t": -125, "v": -11.5}, {"t": -75, "v": -11.5}]},
          "mark": {"type": "text", "text": "*", "fontSize": 17, "baseline": "middle", "dy": 4},
          "encoding": {
            "x": {"field": "t", "type": "quantitative", "axis": null},
            "y": {"field": "v", "type": "quantitative", "axis": null}
          }
        },
        {
          "data": {"values": [{}]},
          "mark": {"type": "text", "text": "Cz", "fontSize": 28, "baseline": "middle", "align": "center"},
          "encoding": {
            "x": {"datum": -70, "type": "quantitative", "axis": null},
            "y": {"datum": -14.2, "type": "quantitative", "axis": null}
          }
        },
        {
          "data": {"values": [{}]},
          "mark": {"type": "text", "text": "A.", "fontSize": 24, "baseline": "middle", "align": "left"},
          "encoding": {
            "x": {"datum": -1038, "type": "quantitative", "axis": null},
            "y": {"datum": -15.5, "type": "quantitative", "axis": null}
          }
        }
      ]
    },
    {
      "width": 453,
      "height": 355,
      "view": {"stroke": "#231f20", "strokeWidth": 2},
      "resolve": {"scale": {"x": "independent"}, "axis": {"x": "independent", "y": "independent"}},
      "layer": [
        {
          "data": {"name": "bars"},
          "mark": {"type": "bar", "stroke": "#231f20", "strokeWidth": 2.5},
          "encoding": {
            "x": {"field": "cond", "type": "nominal", "sort": ["Instructed", "Free choice"],
                  "scale": {"paddingInner": 0.479, "paddingOuter": 0.2395},
                  "axis": {"orient": "bottom", "title": null, "labelAngle": 0, "labelFontSize": 23.5, "tickSize": -5, "labelPadding": 7, "domain": false}},
            "xOffset": {"field": "type", "type": "nominal", "sort": ["Rapid", "Delayed"], "scale": {"paddingInner": 0.156}},
            "y": {"field": "mean", "type": "quantitative", "title": "Mean window amplitude (µV)",
                  "scale": {"domain": [-8, 0], "reverse": true, "nice": false},
                  "axis": {"orient": "left", "values": [-8, -7, -6, -5, -4, -3, -2, -1, 0], "labelFontSize": 22, "titleFontSize": 24, "tickSize": -5, "labelPadding": 14, "titlePadding": 7}},
            "color": {"field": "type", "type": "nominal",
                      "scale": {"domain": ["Rapid", "Delayed"], "range": ["#231f20", "#939598"]},
                      "legend": {"orient": "none", "legendX": 475, "legendY": -2, "title": null, "symbolType": "M-1.51,-0.78H1.51V0.78H-1.51Z", "symbolSize": 1100, "symbolStrokeColor": "#231f20", "symbolStrokeWidth": 2.5, "symbolOffset": 14, "labelFontSize": 23, "labelOffset": 12.5, "padding": 3, "rowPadding": 5, "strokeColor": "#231f20", "fillColor": "white", "labelColor": "#231f20", "labelExpr": "datum.label + '\u00a0\u00a0\u00a0\u00a0\u00a0'"}}
          }
        },
        {
          "data": {"name": "bars"},
          "mark": {"type": "rule", "strokeWidth": 3, "color": "#231f20"},
          "encoding": {
            "x": {"field": "cond", "type": "nominal", "sort": ["Instructed", "Free choice"],
                  "scale": {"paddingInner": 0.479, "paddingOuter": 0.2395},
                  "axis": {"orient": "top", "labels": false, "title": null, "tickSize": -5, "domain": false}},
            "xOffset": {"field": "type", "type": "nominal", "sort": ["Rapid", "Delayed"], "scale": {"paddingInner": 0.156}},
            "y": {"field": "lo", "type": "quantitative",
                  "axis": {"orient": "right", "labels": false, "title": null, "values": [-8, -7, -6, -5, -4, -3, -2, -1, 0], "tickSize": -5, "domain": false}},
            "y2": {"field": "hi"}
          }
        },
        {
          "data": {"name": "bars"},
          "mark": {"type": "tick", "size": 28, "thickness": 3, "color": "#231f20", "opacity": 1},
          "encoding": {
            "x": {"field": "cond", "type": "nominal", "sort": ["Instructed", "Free choice"],
                  "scale": {"paddingInner": 0.479, "paddingOuter": 0.2395}, "axis": null},
            "xOffset": {"field": "type", "type": "nominal", "sort": ["Rapid", "Delayed"], "scale": {"paddingInner": 0.156}},
            "y": {"field": "lo", "type": "quantitative", "axis": null}
          }
        },
        {
          "data": {"name": "bars"},
          "mark": {"type": "tick", "size": 28, "thickness": 3, "color": "#231f20", "opacity": 1},
          "encoding": {
            "x": {"field": "cond", "type": "nominal", "sort": ["Instructed", "Free choice"],
                  "scale": {"paddingInner": 0.479, "paddingOuter": 0.2395}, "axis": null},
            "xOffset": {"field": "type", "type": "nominal", "sort": ["Rapid", "Delayed"], "scale": {"paddingInner": 0.156}},
            "y": {"field": "hi", "type": "quantitative", "axis": null}
          }
        },
        {
          "data": {"name": "sig"},
          "mark": {"type": "rule", "strokeWidth": 1.6, "color": "#3a3a3a"},
          "encoding": {
            "x": {"field": "x", "type": "quantitative", "scale": {"domain": [0.5, 2.5], "nice": false, "zero": false}, "axis": null},
            "x2": {"field": "x2"},
            "y": {"field": "y", "type": "quantitative", "axis": null},
            "y2": {"field": "y2"}
          }
        },
        {
          "data": {"name": "stars"},
          "mark": {"type": "text", "fontSize": 34, "baseline": "middle", "align": "center", "dy": 4},
          "encoding": {
            "x": {"field": "x", "type": "quantitative", "scale": {"domain": [0.5, 2.5], "nice": false, "zero": false}, "axis": null},
            "y": {"field": "y", "type": "quantitative", "axis": null},
            "text": {"field": "label"}
          }
        },
        {
          "data": {"values": [{}]},
          "mark": {"type": "text", "text": "-150 to 0 ms", "fontSize": 23, "baseline": "middle", "align": "center"},
          "encoding": {
            "x": {"datum": 1.545, "type": "quantitative", "scale": {"domain": [0.5, 2.5], "nice": false, "zero": false}, "axis": null},
            "y": {"datum": -8.47, "type": "quantitative", "axis": null}
          }
        },
        {
          "data": {"values": [{}]},
          "mark": {"type": "text", "text": "B.", "fontSize": 24, "baseline": "middle", "align": "left"},
          "encoding": {
            "x": {"datum": 0.257, "type": "quantitative", "scale": {"domain": [0.5, 2.5], "nice": false, "zero": false}, "axis": null},
            "y": {"datum": -8.9, "type": "quantitative", "axis": null}
          }
        }
      ]
    }
  ],
  "spacing": 17,
  "align": "none",
  "bounds": "full"
}
